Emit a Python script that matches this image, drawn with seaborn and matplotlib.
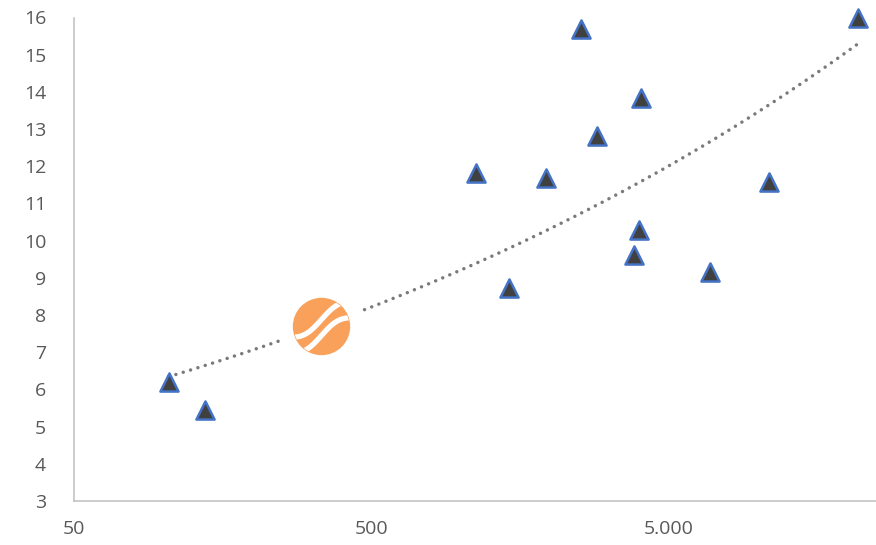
import numpy as np
import pandas as pd
import seaborn as sns
import matplotlib.pyplot as plt
from matplotlib.patches import Circle
from matplotlib.ticker import FixedLocator, FuncFormatter, NullLocator

# observations (log-scaled x)
x_values = [104, 138, 1126, 1453, 1929, 2538, 2873, 3828, 3970, 4040, 6895, 10890, 21700]
y_values = [6.20, 5.45, 11.82, 8.73, 11.69, 15.69, 12.81, 9.61, 10.29, 13.84, 9.16, 11.58, 16.00]
x_ticks = [50, 500, 5000]
y_ticks = list(range(3, 17))

sns.set_theme(style="white")
plt.rcParams["font.family"] = ["Open Sans", "DejaVu Sans"]

W, H = 876, 545
fig = plt.figure(figsize=(W / 100, H / 100), dpi=100)
ax = fig.add_axes([74 / W, 1 - 501 / H, 891.75 / W, 483.5 / H])
ax.set_xscale("log")

df = pd.DataFrame({"x": x_values, "y": y_values})

# power trendline: ln y = ln a + b ln x
b, ln_a = np.polyfit(np.log(df["x"]), np.log(df["y"]), 1)
tx = np.geomspace(df["x"].min(), df["x"].max(), 300)
trend = pd.DataFrame({"x": tx, "y": np.exp(ln_a) * tx ** b})

sns.lineplot(data=trend, x="x", y="y", ax=ax, color="#7a7a7a", lw=2.5,
             linestyle=(0, (0.01, 2.2)), dash_capstyle="round", zorder=2)
sns.scatterplot(data=df, x="x", y="y", ax=ax, marker="^", s=170,
                color="#404040", edgecolor="#4472C4", linewidth=1.8,
                zorder=3, clip_on=False, legend=False)

ax.set_xlim(50, 50000)
ax.set_ylim(3, 16)
ax.xaxis.set_major_locator(FixedLocator(x_ticks))
ax.xaxis.set_minor_locator(NullLocator())
ax.xaxis.set_major_formatter(FuncFormatter(lambda v, p: f"{int(round(v)):,}".replace(",", ".")))
ax.set_yticks(y_ticks)
ax.set_xlabel("")
ax.set_ylabel("")

for side in ("top", "right"):
    ax.spines[side].set_visible(False)
for side in ("left", "bottom"):
    ax.spines[side].set_color("#bfbfbf")
    ax.spines[side].set_linewidth(1.1)

ax.tick_params(axis="both", length=0, labelcolor="#595959", labelsize=14)
ax.tick_params(axis="y", pad=20)
ax.tick_params(axis="x", pad=14)

# round orange wave emblem
lax = fig.add_axes([(321.5 - 45) / W, 1 - (326.5 + 45) / H, 90 / W, 90 / H])
lax.set_xlim(-45, 45)
lax.set_ylim(-45, 45)
lax.set_aspect("equal")
lax.axis("off")
lax.add_patch(Circle((0, 0), 40, color="white", zorder=1))
disc = Circle((0, 0), 28, color="#F9A15A", zorder=2)
lax.add_patch(disc)
xs = np.linspace(-32, 32, 200)
for d in (-9, 7):
    ys = d + 0.6 * xs + 5 * np.sin(np.pi * xs / 30)
    ln, = lax.plot(xs, ys, color="white", lw=3.8, zorder=3, solid_capstyle="round")
    ln.set_clip_path(disc)

fig.savefig("out.png", dpi=100)
